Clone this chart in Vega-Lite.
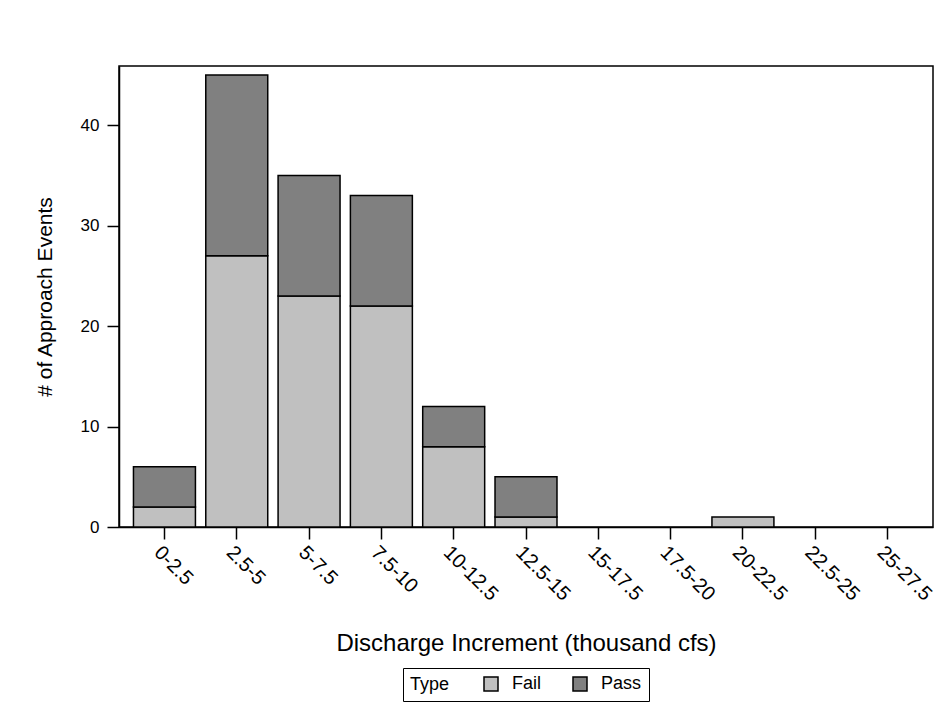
{
  "$schema": "https://vega.github.io/schema/vega-lite/v6.json",
  "autosize": "none",
  "width": 814,
  "height": 461,
  "padding": {"left": 119, "top": 66, "right": 14, "bottom": 190},
  "background": "white",
  "config": {
    "font": "Liberation Sans",
    "view": {"stroke": "black", "strokeWidth": 1.5},
    "axis": {"domainColor": "black", "tickColor": "black", "labelColor": "black", "titleColor": "black", "grid": false, "domainWidth": 1.5, "tickWidth": 1.5}
  },
  "data": {
    "values": [
      {"bin": "0-2.5", "Type": "Fail", "count": 2},
      {"bin": "0-2.5", "Type": "Pass", "count": 4},
      {"bin": "2.5-5", "Type": "Fail", "count": 27},
      {"bin": "2.5-5", "Type": "Pass", "count": 18},
      {"bin": "5-7.5", "Type": "Fail", "count": 23},
      {"bin": "5-7.5", "Type": "Pass", "count": 12},
      {"bin": "7.5-10", "Type": "Fail", "count": 22},
      {"bin": "7.5-10", "Type": "Pass", "count": 11},
      {"bin": "10-12.5", "Type": "Fail", "count": 8},
      {"bin": "10-12.5", "Type": "Pass", "count": 4},
      {"bin": "12.5-15", "Type": "Fail", "count": 1},
      {"bin": "12.5-15", "Type": "Pass", "count": 4},
      {"bin": "20-22.5", "Type": "Fail", "count": 1}
    ]
  },
  "mark": {"type": "bar", "stroke": "black", "strokeWidth": 1.5},
  "encoding": {
    "x": {
      "field": "bin",
      "type": "nominal",
      "scale": {"domain": ["0-2.5", "2.5-5", "5-7.5", "7.5-10", "10-12.5", "12.5-15", "15-17.5", "17.5-20", "20-22.5", "22.5-25", "25-27.5"], "paddingInner": 0.143, "paddingOuter": 0.2},
      "axis": {
        "title": "Discharge Increment (thousand cfs)",
        "labelAngle": 45,
        "labelFontSize": 20,
        "titleFontSize": 24,
        "titleFontWeight": "normal",
        "tickSize": 12,
        "labelPadding": 3,
        "titlePadding": 27
      }
    },
    "y": {
      "field": "count",
      "type": "quantitative",
      "stack": "zero",
      "scale": {"domain": [0, 45.9], "nice": false},
      "axis": {
        "title": "# of Approach Events",
        "values": [0, 10, 20, 30, 40],
        "labelFontSize": 17,
        "titleFontSize": 21,
        "titleFontWeight": "normal",
        "tickSize": 12,
        "labelPadding": 8,
        "titlePadding": 25
      }
    },
    "color": {
      "field": "Type",
      "type": "nominal",
      "scale": {"domain": ["Fail", "Pass"], "range": ["#c0c0c0", "#808080"]},
      "legend": {
        "orient": "none",
        "legendX": 284,
        "legendY": 602,
        "direction": "horizontal",
        "titleOrient": "left",
        "title": "Type",
        "titleFontSize": 18,
        "titleFontWeight": "normal",
        "titlePadding": 32,
        "titleColor": "black",
        "labelColor": "black",
        "labelFontSize": 18,
        "labelOffset": 12,
        "columnPadding": 28,
        "symbolType": "square",
        "symbolSize": 196,
        "symbolStrokeColor": "black",
        "symbolStrokeWidth": 1.5,
        "strokeColor": "black",
        "padding": 7
      }
    },
    "order": {"field": "Type", "sort": "ascending"}
  }
}
